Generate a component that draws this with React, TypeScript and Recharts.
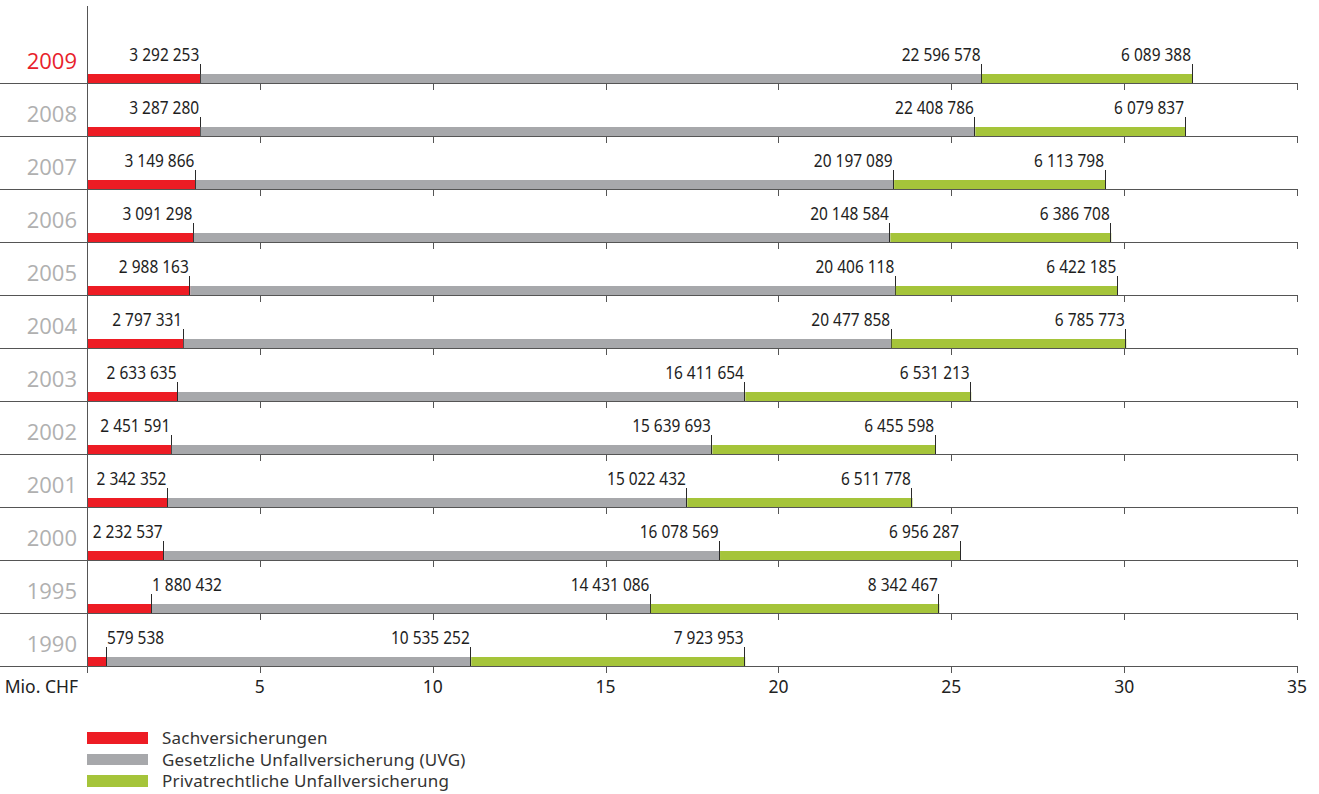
import React from 'react';
import { BarChart, Bar, XAxis, YAxis, Legend } from 'recharts';

// ---- Data (values in thousand CHF; axis shown in Mio. CHF units of 1e6) ----
const years = ['2009', '2008', '2007', '2006', '2005', '2004', '2003', '2002', '2001', '2000', '1995', '1990'];
const sachValues = [3292253, 3287280, 3149866, 3091298, 2988163, 2797331, 2633635, 2451591, 2342352, 2232537, 1880432, 579538];
const uvgValues = [22596578, 22408786, 20197089, 20148584, 20406118, 20477858, 16411654, 15639693, 15022432, 16078569, 14431086, 10535252];
const privValues = [6089388, 6079837, 6113798, 6386708, 6422185, 6785773, 6531213, 6455598, 6511778, 6956287, 8342467, 7923953];
const xTicks = [0, 5000000, 10000000, 15000000, 20000000, 25000000, 30000000, 35000000];
const axisUnitLabel = 'Mio. CHF';
const seriesKeys = ['sach', 'uvg', 'priv'];
const seriesNames = ['Sachversicherungen', 'Gesetzliche Unfallversicherung (UVG)', 'Privatrechtliche Unfallversicherung'];
const seriesColors = ['#ed1c24', '#a7a8ab', '#a5c43a'];
const highlightYear = '2009';

const data = years.map((year, i) => ({
  year,
  sach: sachValues[i],
  uvg: uvgValues[i],
  priv: privValues[i],
}));

// ---- Layout ----
const W = 1319;
const H = 794;
const MARGIN = { top: 6, right: 22, bottom: 98, left: 0 };
const Y_AXIS_WIDTH = 87;
const X_AXIS_HEIGHT = 30;
const PAD_TOP = 24;
const PLOT_RIGHT = W - MARGIN.right;
const PLOT_TOP = MARGIN.top;
const PLOT_BOTTOM = H - MARGIN.bottom - X_AXIS_HEIGHT;
const BAND = (PLOT_BOTTOM - PLOT_TOP - PAD_TOP) / years.length;
const BAR_H = 10;
const LINE_COLOR = '#555555';
const FONT = "'Noto Sans', 'DejaVu Sans', sans-serif";
const LABEL_SIZE = 18;
const LABEL_SCALE = 0.86;

const fmt = (n: number) => String(n).replace(/\B(?=(\d{3})+(?!\d))/g, ' ');
const estWidth = (s: string) => {
  let w = 0;
  for (const ch of s) w += ch === ' ' ? 0.26 : 0.572;
  return w * LABEL_SIZE * LABEL_SCALE;
};

const makeShape = (key: string, color: string) => (props: any) => {
  const { x, y, width, height, payload } = props;
  if (x == null || y == null) return null;
  const bottom = Math.round(y + height / 2 + BAND / 2);
  const top = bottom - BAR_H;
  const xEnd = x + width;
  const xm = Math.round(xEnd) - 0.5;
  const label = fmt(payload[key]);
  const fitsLeft = xEnd - 1.5 - estWidth(label) >= Y_AXIS_WIDTH + 2;
  const tx = fitsLeft ? xEnd - 1.5 : xEnd;
  return (
    <g>
      <rect x={x} y={top} width={Math.max(0, width)} height={BAR_H} fill={color} />
      <line x1={xm} x2={xm} y1={bottom - 20} y2={bottom} stroke="#2a2a2a" strokeWidth={1} />
      <text
        transform={`translate(${tx}, ${bottom - 23}) scale(${LABEL_SCALE}, 1)`}
        textAnchor={fitsLeft ? 'end' : 'start'}
        fontFamily={FONT}
        fontSize={LABEL_SIZE}
        fill="#1e1e1e"
      >
        {label}
      </text>
    </g>
  );
};

const YearTick = (props: any) => {
  const { y, payload } = props;
  const bottom = Math.round(y + BAND / 2) + 0.5;
  const isHi = payload.value === highlightYear;
  return (
    <g>
      <line x1={0} x2={PLOT_RIGHT} y1={bottom} y2={bottom} stroke={LINE_COLOR} strokeWidth={1} />
      <text
        x={Y_AXIS_WIDTH - 10}
        y={bottom - 14.5}
        textAnchor="end"
        fontFamily="'Open Sans', 'Noto Sans', sans-serif"
        fontWeight={400}
        fontSize={22}
        fill={isHi ? '#e8212b' : '#b0b0b0'}
      >
        {payload.value}
      </text>
    </g>
  );
};

const XTick = (props: any) => {
  const { x, payload } = props;
  const v = payload.value;
  const xm = Math.round(x) + 0.5;
  const rowBottoms = years.map((_, i) => PLOT_TOP + PAD_TOP + BAND * (i + 1));
  return (
    <g>
      {rowBottoms.map((yy, i) => (
        <line key={i} x1={xm} x2={xm} y1={yy} y2={yy + 7} stroke={LINE_COLOR} strokeWidth={1} />
      ))}
      <text
        x={v === 0 ? x - 9 : x}
        y={PLOT_BOTTOM + 27}
        textAnchor={v === 0 ? 'end' : 'middle'}
        fontFamily={FONT}
        fontSize={17.5}
        fill="#222"
      >
        {v === 0 ? axisUnitLabel : String(v / 1000000)}
      </text>
    </g>
  );
};

const renderLegend = (props: any) => {
  const items = [...(props.payload || [])].sort(
    (a: any, b: any) => seriesNames.indexOf(a.value) - seriesNames.indexOf(b.value)
  );
  return (
    <div>
      {items.map((item: any) => (
        <div key={item.value} style={{ display: 'flex', alignItems: 'center', height: 21.7 }}>
          <span
            style={{ display: 'inline-block', width: 61, height: 11.5, background: item.color, marginRight: 14 }}
          />
          <span style={{ fontFamily: FONT, fontSize: 17, color: '#333', letterSpacing: 0.2, lineHeight: '21.7px' }}>
            {item.value}
          </span>
        </div>
      ))}
    </div>
  );
};

export default function App() {
  return (
    <div style={{ position: 'absolute', left: 0, top: 0, width: W, height: H, background: '#fff' }}>
      <BarChart width={W} height={H} data={data} layout="vertical" margin={MARGIN} barSize={BAR_H}>
        <XAxis
          xAxisId="top"
          orientation="top"
          type="number"
          domain={[0, 35000000]}
          height={0}
          tick={false}
          tickLine={false}
          axisLine={{ stroke: LINE_COLOR, shapeRendering: 'crispEdges' }}
        />
        <XAxis
          type="number"
          domain={[0, 35000000]}
          ticks={xTicks}
          interval={0}
          height={X_AXIS_HEIGHT}
          axisLine={false}
          tickLine={false}
          tick={<XTick />}
        />
        <YAxis
          type="category"
          dataKey="year"
          width={Y_AXIS_WIDTH}
          interval={0}
          padding={{ top: PAD_TOP, bottom: 0 }}
          tickLine={false}
          axisLine={{ stroke: LINE_COLOR, shapeRendering: 'crispEdges' }}
          tick={<YearTick />}
        />
        <Legend
          layout="horizontal"
          verticalAlign="middle"
          align="center"
          wrapperStyle={{ left: 87, top: 727, width: 600, height: 68 }}
          content={renderLegend}
        />
        {seriesKeys.map((key, i) => (
          <Bar
            key={key}
            dataKey={key}
            name={seriesNames[i]}
            stackId="total"
            fill={seriesColors[i]}
            isAnimationActive={false}
            shape={makeShape(key, seriesColors[i])}
          />
        ))}
      </BarChart>
    </div>
  );
}
